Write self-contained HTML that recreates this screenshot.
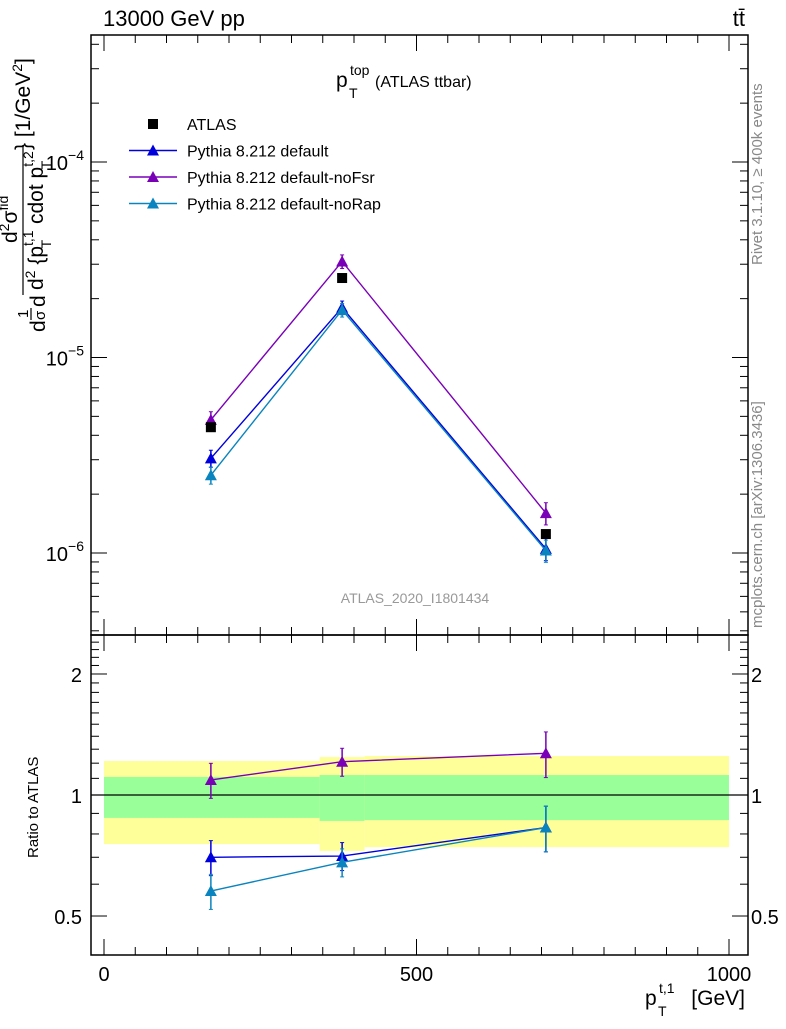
<!DOCTYPE html>
<html><head><meta charset="utf-8"><style>
body{margin:0;background:#fff;font-family:"Liberation Sans",sans-serif}
svg text{font-family:"Liberation Sans",sans-serif}
</style></head><body>
<svg id="c" width="786" height="1024" xmlns="http://www.w3.org/2000/svg">
<g id="g"></g>
<text x="103" y="26" font-size="22">13000 GeV pp</text>
<text x="745" y="26" font-size="22" text-anchor="end">tt̄</text>
<g>
<text x="336" y="87" font-size="21">p</text>
<text x="350" y="75" font-size="14">top</text>
<text x="349" y="98" font-size="14">T</text>
<text x="375" y="87" font-size="16">(ATLAS ttbar)</text>
</g>
<text x="415" y="603" font-size="14" fill="#999" text-anchor="middle">ATLAS_2020_I1801434</text>
<text transform="translate(762,265) rotate(-90)" font-size="15" fill="#888">Rivet 3.1.10, ≥ 400k events</text>
<text transform="translate(762,628) rotate(-90)" font-size="15" fill="#888">mcplots.cern.ch [arXiv:1306.3436]</text>
<g font-size="21">
<text transform="translate(45,332) rotate(-90)">d</text>
<text transform="translate(28,318) rotate(-90)" font-size="15">1</text>
<line x1="31" x2="31" y1="308" y2="320" stroke="#000" stroke-width="1.2"/>
<text transform="translate(45,320) rotate(-90)" font-size="15">σ</text>
<text transform="translate(45,307) rotate(-90)">d</text>
<text transform="translate(17,243) rotate(-90)">d<tspan font-size="14" dy="-8">2</tspan><tspan dy="8">σ</tspan><tspan font-size="14" dy="-9">fid</tspan></text>
<line x1="23" x2="23" y1="145" y2="295" stroke="#000" stroke-width="1.2"/>
<text transform="translate(43,290) rotate(-90)">d<tspan font-size="14" dy="-8">2</tspan><tspan dy="8"> {p</tspan><tspan font-size="14" dy="-10">t,1</tspan><tspan font-size="14" dx="-18" dy="18">T</tspan><tspan dx="10" dy="-8"> cdot p</tspan><tspan font-size="14" dy="-10">t,2</tspan><tspan font-size="14" dx="-18" dy="18">T</tspan></text>
<text transform="translate(30,150) rotate(-90)">} [1/GeV<tspan font-size="14" dy="-8">2</tspan><tspan dy="8">]</tspan></text>
</g>
<text transform="translate(38,858) rotate(-90)" font-size="15">Ratio to ATLAS</text>
<g>
<text x="645" y="1005" font-size="21">p</text>
<text x="659" y="993" font-size="14">t,1</text>
<text x="658" y="1016" font-size="14">T</text>
<text x="745" y="1005" font-size="21" text-anchor="end">[GeV]</text>
</g>
</svg>
<script>
const xEdges=[0,345,417,1000];
const pt=[171,381,707];
const atlas=[4.4e-6,2.55e-5,1.25e-6];
const pDef=[3.05e-6,1.8e-5,1.05e-6];
const pFsr=[4.8e-6,3.1e-5,1.6e-6];
const pRap=[2.5e-6,1.75e-5,1.03e-6];
const relErr=[0.1,0.08,0.13];
const rDef=[0.70,0.705,0.83];
const rFsr=[1.09,1.21,1.27];
const rRap=[0.577,0.68,0.83];
const yelLo=[0.755,0.726,0.742],yelHi=[1.215,1.243,1.25];
const grnLo=[0.877,0.862,0.866],grnHi=[1.109,1.121,1.121];
const xTicks=[0,500,1000];
const yTicks=[1e-6,1e-5,1e-4];
const yTickLabels=["10","10","10"],yTickExp=["−6","−5","−4"];
const rTicks=[0.5,1,2];
const NS="http://www.w3.org/2000/svg",g=document.getElementById('g');
const L=91,R=748,T=35,M=635,B=955;
const X=v=>104+v*0.625;
const Y=v=>162-(Math.log10(v)+4)*195.5;
const RY=v=>795-Math.log10(v)*402;
function el(t,a,name,p){const e=document.createElementNS(NS,t);for(const k in a)e.setAttribute(k,a[k]);


(p||g).appendChild(e);return e;}
for(let i=0;i<3;i++){
el('rect',{x:X(xEdges[i]),y:RY(yelHi[i]),width:X(xEdges[i+1])-X(xEdges[i]),height:RY(yelLo[i])-RY(yelHi[i]),fill:'#ffff99'},'ratio-band-total');
el('rect',{x:X(xEdges[i]),y:RY(grnHi[i]),width:X(xEdges[i+1])-X(xEdges[i]),height:RY(grnLo[i])-RY(grnHi[i]),fill:'#99ff99'},'ratio-band-stat');}
el('line',{x1:L,x2:R,y1:RY(1),y2:RY(1),stroke:'#000','stroke-width':1.2},'ratio-unity-line');
el('rect',{x:L,y:T,width:R-L,height:M-T,fill:'none',stroke:'#000','stroke-width':1.5},'main-frame');
el('rect',{x:L,y:M,width:R-L,height:B-M,fill:'none',stroke:'#000','stroke-width':1.5},'ratio-frame');
for(let v=0;v<=1000;v+=50){const big=v%500==0,s=big?16:8;
for(const [a,b] of [[T,T+s],[M-s,M],[M,M+s],[B-s,B]])el('line',{x1:X(v),x2:X(v),y1:a,y2:b,stroke:'#000'},'x-tick');}
xTicks.forEach(v=>{const t=el('text',{x:X(v),y:981,'font-size':20,'text-anchor':'middle'},'x-tick-label');t.textContent=v;});
for(let d=-7;d<=-4;d++)for(let m=1;m<10;m++){const v=m*Math.pow(10,d),y=Y(v);if(y<T||y>M)continue;const s=m==1?16:8;
el('line',{x1:L,x2:L+s,y1:y,y2:y,stroke:'#000'},'y-tick');el('line',{x1:R-s,x2:R,y1:y,y2:y,stroke:'#000'},'y-tick');}
yTicks.forEach((v,i)=>{const t=el('text',{x:84,y:Y(v)+8,'font-size':20,'text-anchor':'end'},'y-tick-label');t.textContent=yTickLabels[i];
const e=el('tspan',{dy:-10,'font-size':14},'y-tick-exponent',t);e.textContent=yTickExp[i];});
for(let v=0.4;v<2.41;v+=0.1){const y=RY(v);if(y<M||y>B)continue;const big=[0.5,1,2].some(q=>Math.abs(q-v)<1e-6),s=big?16:8;
el('line',{x1:L,x2:L+s,y1:y,y2:y,stroke:'#000'},'ratio-tick');el('line',{x1:R-s,x2:R,y1:y,y2:y,stroke:'#000'},'ratio-tick');}
rTicks.forEach(v=>{for(const [x,a] of [[82,'end'],[751,'start']]){const t=el('text',{x:x,y:RY(v)+8,'font-size':20,'text-anchor':a},'ratio-tick-label');t.textContent=v;}});
function tri(x,y,c,n){el('path',{d:`M${x} ${y-6}L${x+6} ${y+5}L${x-6} ${y+5}Z`,fill:c},n);}
function series(vals,fn,c,n,rel){
el('polyline',{points:vals.map((v,i)=>X(pt[i])+','+fn(v)).join(' '),fill:'none',stroke:c,'stroke-width':1.4},n+'-line');
vals.forEach((v,i)=>{const x=X(pt[i]),e=v*rel[i];
el('line',{x1:x,x2:x,y1:fn(v+e),y2:fn(v-e),stroke:c,'stroke-width':1.5},n+'-error');
el('line',{x1:x-2,x2:x+2,y1:fn(v+e),y2:fn(v+e),stroke:c},n+'-error-cap');
el('line',{x1:x-2,x2:x+2,y1:fn(v-e),y2:fn(v-e),stroke:c},n+'-error-cap');
tri(x,fn(v),c,n+'-point');});}
const cols={def:'#0000dd',fsr:'#7a00b8',rap:'#0a84be'};
series(pDef,Y,cols.def,'default',relErr);
series(pFsr,Y,cols.fsr,'nofsr',relErr);
series(pRap,Y,cols.rap,'norap',relErr);
atlas.forEach((v,i)=>el('rect',{x:X(pt[i])-5,y:Y(v)-5,width:10,height:10,fill:'#000'},'atlas-point'));
series(rDef,RY,cols.def,'ratio-default',relErr);
series(rFsr,RY,cols.fsr,'ratio-nofsr',relErr);
series(rRap,RY,cols.rap,'ratio-norap',relErr);
const leg=[['ATLAS','#000',1],['Pythia 8.212 default',cols.def],['Pythia 8.212 default-noFsr',cols.fsr],['Pythia 8.212 default-noRap',cols.rap]];
leg.forEach((l,i)=>{const y=124+i*26.5;
if(l[2])el('rect',{x:148,y:y-5,width:10,height:10,fill:'#000'},'legend-marker');
else{el('line',{x1:129,x2:177,y1:y,y2:y,stroke:l[1],'stroke-width':1.4},'legend-line');tri(153,y,l[1],'legend-marker');}
const t=el('text',{x:187,y:y+6,'font-size':16},'legend-entry');t.textContent=l[0];});
</script>
</body></html>
